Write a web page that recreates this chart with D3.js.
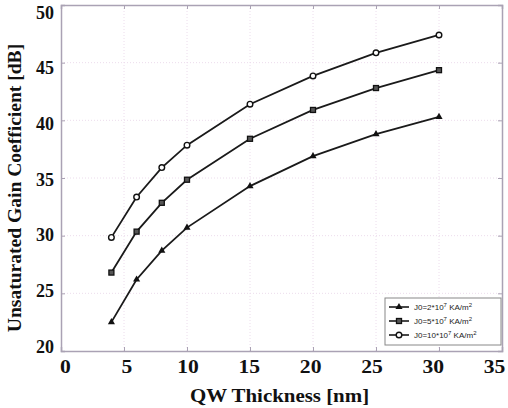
<!DOCTYPE html>
<meta charset="utf-8">
<style>
  body { margin: 0; background: #fff; }
  .tick text { font-family: "Liberation Serif", "Times New Roman", serif; font-weight: bold; font-size: 18px; fill: #111; }
  .lbl { font-family: "Liberation Serif", "Times New Roman", serif; font-weight: bold; font-size: 19px; fill: #111; }
  .leg { font-family: "Liberation Sans", Arial, sans-serif; font-size: 8px; fill: #222; }
</style>
<div id="chart"></div>
<script src="https://d3js.org/d3.v7.min.js"></script>
<script>

var thickness = [4, 6, 8, 10, 15, 20, 25, 30];
var gainJ2  = [22.5, 26.2, 28.7, 30.7, 34.3, 36.9, 38.8, 40.3];
var gainJ5  = [26.8, 30.35, 32.85, 34.85, 38.4, 40.9, 42.8, 44.35];
var gainJ10 = [29.85, 33.35, 35.9, 37.85, 41.4, 43.85, 45.85, 47.4];
var xTicks = [0, 5, 10, 15, 20, 25, 30, 35];
var yTicks = [20, 25, 30, 35, 40, 45, 50];
var seriesNames = ["J0=2*10", "J0=5*10", "J0=10*10"];

var series = [
  {name: seriesNames[0], values: gainJ2, mark: "triangle"},
  {name: seriesNames[1], values: gainJ5, mark: "square"},
  {name: seriesNames[2], values: gainJ10, mark: "circle"}
];

var margin = {top: 5, right: 6, bottom: 57, left: 61},
    width = 508 - margin.left - margin.right,
    height = 408 - margin.top - margin.bottom;

var svg = d3.select("#chart")
  .append("svg")
    .attr("width", 508)
    .attr("height", 408)
  .append("g")
    .attr("transform", "translate(" + margin.left + "," + margin.top + ")");

var x = d3.scaleLinear().domain([0, 35]).range([0, width]);
var y = d3.scaleLinear().domain([20, 50]).range([height, 0]);
// tick labels sit on a slightly tighter spacing than the ticks
var xLab = d3.scaleLinear().domain([0, 35]).range([4, width - 8]);
var yLab = d3.scaleLinear().domain([20, 50]).range([height - 4.5, 7.5]);

// grid
svg.append("g").selectAll("line")
  .data(xTicks.slice(1, -1))
  .enter().append("line")
    .attr("x1", d => x(d)).attr("x2", d => x(d))
    .attr("y1", 0).attr("y2", height)
    .attr("stroke", "#ecdcec").attr("stroke-dasharray", "1,2");
svg.append("g").selectAll("line")
  .data(yTicks.slice(1, -1))
  .enter().append("line")
    .attr("y1", d => y(d)).attr("y2", d => y(d))
    .attr("x1", 0).attr("x2", width)
    .attr("stroke", "#ecdcec").attr("stroke-dasharray", "1,2");

// axes
svg.append("g")
  .attr("transform", "translate(0," + height + ")")
  .call(d3.axisBottom(x).tickValues(xTicks).tickSize(-4).tickPadding(9))
  .selectAll(".tick text")
    .attr("transform", d => "translate(" + (xLab(d) - x(d)) + ",0) scale(1.2,1)");
svg.append("g")
  .call(d3.axisLeft(y).tickValues(yTicks).tickSize(-4).tickPadding(7))
  .selectAll(".tick text")
    .attr("transform", d => "translate(0," + (yLab(d) - y(d)) + ")");
svg.append("g")
  .call(d3.axisTop(x).tickValues(xTicks).tickSize(-4).tickFormat(""));
svg.append("g")
  .attr("transform", "translate(" + width + ",0)")
  .call(d3.axisRight(y).tickValues(yTicks).tickSize(-4).tickFormat(""));
svg.selectAll(".domain").attr("stroke", "#aaa2b4").attr("stroke-width", 1.5);
svg.selectAll(".tick line").attr("stroke", "#aaa2b4");

// lines
var line = d3.line()
  .x((d, i) => x(thickness[i]))
  .y(d => y(d));

series.forEach(function(s) {
  svg.append("path")
    .datum(s.values)
    .attr("fill", "none")
    .attr("stroke", "#1a1a1a")
    .attr("stroke-width", 1.8)
    .attr("d", line);
});

function drawMark(g, kind, cx, cy) {
  if (kind === "triangle") {
    g.append("path")
      .attr("d", d3.symbol().type(d3.symbolTriangle).size(22)())
      .attr("transform", "translate(" + cx + "," + cy + ")")
      .attr("fill", "#111");
  } else if (kind === "square") {
    g.append("rect")
      .attr("x", cx - 2.5).attr("y", cy - 2.5)
      .attr("width", 5).attr("height", 5)
      .attr("fill", "#555").attr("stroke", "#111").attr("stroke-width", 1.3);
  } else {
    g.append("circle")
      .attr("cx", cx).attr("cy", cy).attr("r", 2.8)
      .attr("fill", "#fff").attr("stroke", "#111").attr("stroke-width", 1.4);
  }
}

series.forEach(function(s) {
  var g = svg.append("g");
  s.values.forEach(function(v, i) {
    drawMark(g, s.mark, x(thickness[i]), y(v));
  });
});

// axis labels
svg.append("text")
  .attr("class", "lbl")
  .attr("transform", "translate(" + (width / 2 - 2) + "," + (height + 51) + ") scale(1.1,1)")
  .attr("text-anchor", "middle")
  .text("QW Thickness [nm]");

svg.append("text")
  .attr("class", "lbl")
  .attr("font-size", "18px")
  .attr("transform", "translate(-40," + (height / 2 + 10) + ") rotate(-90) scale(1.03,1)")
  .attr("text-anchor", "middle")
  .text("Unsaturated Gain Coefficient [dB]");

// legend
var leg = svg.append("g")
  .attr("transform", "translate(" + (width - 117) + "," + (height - 53) + ")");
leg.append("rect")
  .attr("width", 116).attr("height", 47)
  .attr("fill", "#fff").attr("stroke", "#888").attr("stroke-width", 1);

series.forEach(function(s, i) {
  var ly = 9 + i * 14;
  leg.append("line")
    .attr("x1", 4).attr("x2", 24).attr("y1", ly).attr("y2", ly)
    .attr("stroke", "#1a1a1a").attr("stroke-width", 1.6);
  drawMark(leg, s.mark, 14, ly);
  var t = leg.append("text").attr("class", "leg")
    .attr("x", 29).attr("y", ly + 3);
  t.append("tspan").text(s.name);
  t.append("tspan").attr("dy", -3).attr("font-size", "6px").text("7");
  t.append("tspan").attr("dy", 3).text(" KA/m");
  t.append("tspan").attr("dy", -3).attr("font-size", "6px").text("2");
});

</script>
